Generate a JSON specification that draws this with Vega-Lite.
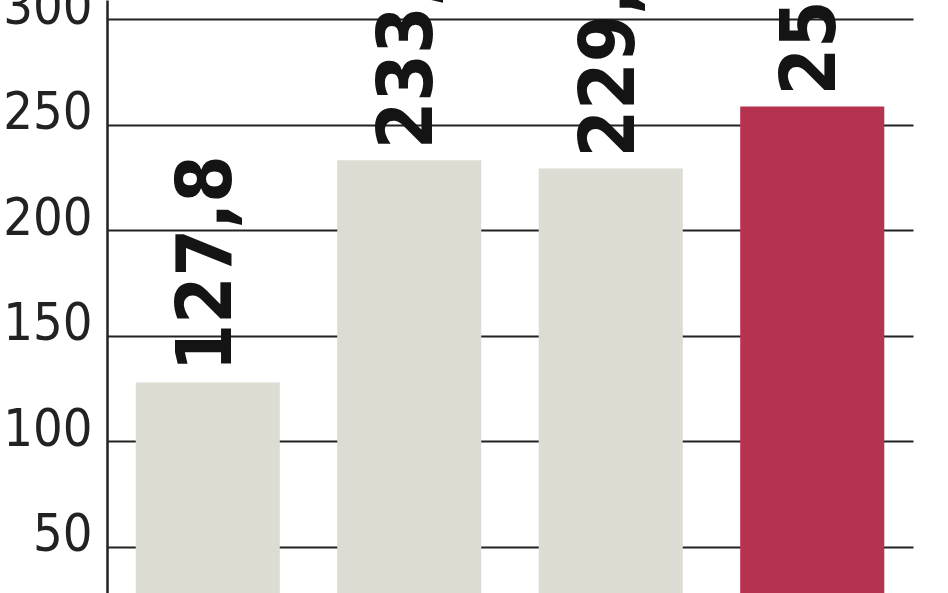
{
  "$schema": "https://vega.github.io/schema/vega-lite/v6.json",
  "width": 806,
  "height": 593,
  "autosize": {"type": "none"},
  "padding": {"left": 107, "top": 0, "right": 35, "bottom": 0},
  "background": "white",
  "data": {
    "values": [
      {"year": "2014", "value": 127.8, "highlight": "no"},
      {"year": "2015", "value": 233.2, "highlight": "no"},
      {"year": "2016", "value": 229.3, "highlight": "no"},
      {"year": "2017", "value": 258.7, "highlight": "yes"}
    ]
  },
  "encoding": {
    "x": {
      "field": "year",
      "type": "nominal",
      "sort": null,
      "axis": null,
      "scale": {"paddingInner": 0.285, "paddingOuter": 0.1425}
    },
    "y": {
      "field": "value",
      "type": "quantitative",
      "scale": {"domain": [28, 309.2], "zero": false, "nice": false},
      "axis": {
        "values": [50, 100, 150, 200, 250, 300],
        "title": null,
        "ticks": false,
        "labelPadding": 15,
        "labelFont": "DejaVu Sans Condensed, sans-serif",
        "labelFontSize": 52,
        "labelFontWeight": 300,
        "labelColor": "#222222",
        "labelBaseline": "alphabetic",
        "labelOffset": 4,
        "labelOverlap": false,
        "labelFlush": false,
        "labelBound": false,
        "domainColor": "#222222",
        "domainWidth": 2.5,
        "gridColor": "#222222",
        "gridWidth": 2.2,
        "gridOpacity": 1
      }
    }
  },
  "layer": [
    {
      "mark": {"type": "bar", "clip": true},
      "encoding": {
        "color": {
          "field": "highlight",
          "type": "nominal",
          "scale": {"domain": ["no", "yes"], "range": ["#dcdcd2", "#b53350"]},
          "legend": null
        }
      }
    },
    {
      "mark": {
        "type": "text",
        "angle": 270,
        "align": "left",
        "baseline": "middle",
        "dx": 11,
        "font": "DejaVu Sans Condensed, sans-serif",
        "fontWeight": "bold",
        "fontSize": 76,
        "color": "#141414"
      },
      "encoding": {
        "text": {"field": "value", "type": "quantitative", "format": ".1f"}
      }
    }
  ],
  "config": {
    "view": {"stroke": null},
    "locale": {
      "number": {
        "decimal": ",",
        "thousands": " ",
        "grouping": [3],
        "currency": ["", " zł"]
      }
    }
  }
}
